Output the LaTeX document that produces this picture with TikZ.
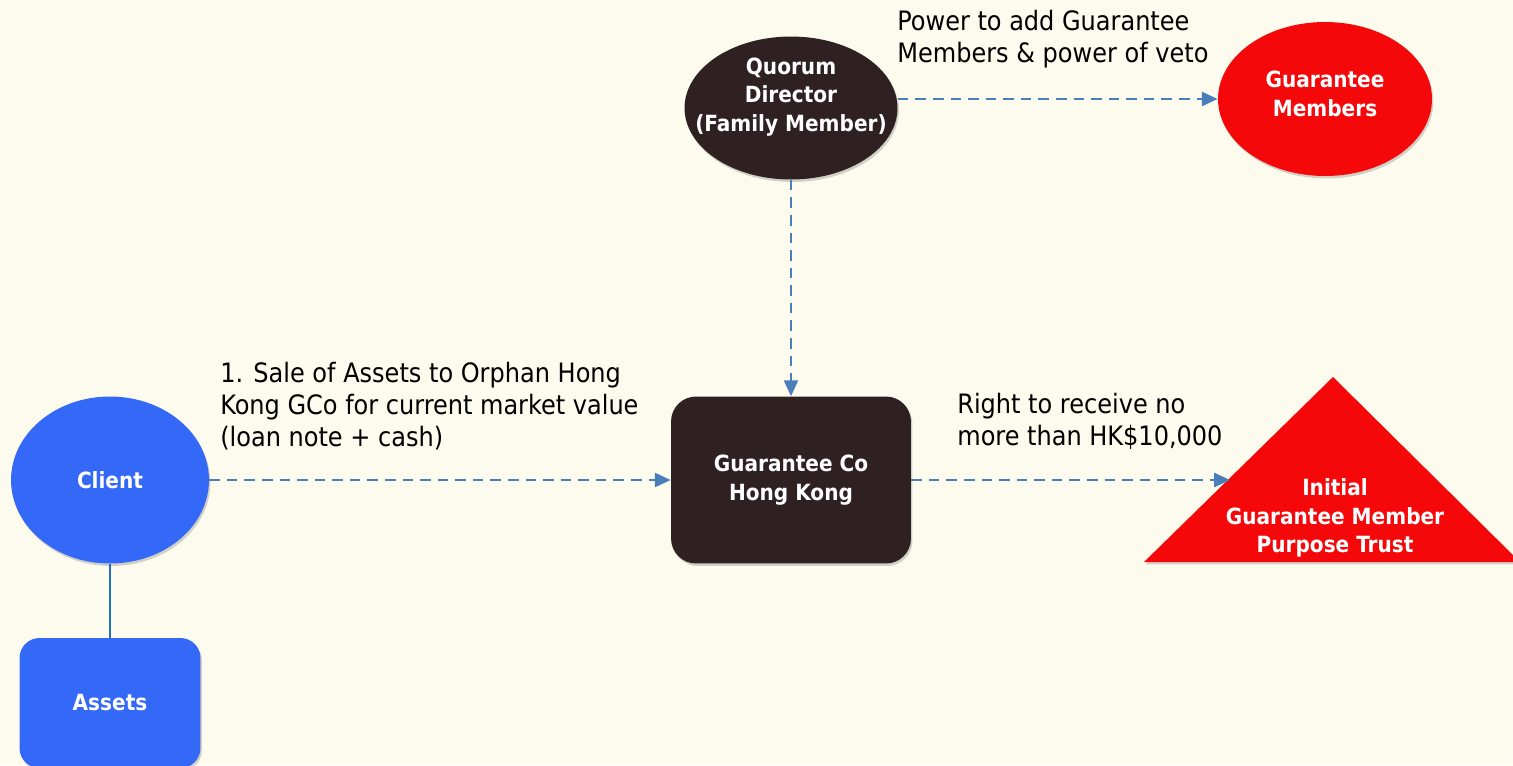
\documentclass[tikz,border=0pt]{standalone}
\usepackage{fontspec}
\setmainfont{DejaVu Sans Condensed}
\usetikzlibrary{arrows.meta, shapes.geometric, shadows, positioning}

\definecolor{paper}{RGB}{253,251,238}
\definecolor{clientblue}{RGB}{52,104,246}
\definecolor{darkbox}{RGB}{47,33,34}
\definecolor{hotred}{RGB}{245,8,10}
\definecolor{flowblue}{RGB}{74,126,187}
\definecolor{linkblue}{RGB}{31,112,192}

\begin{document}
\begin{tikzpicture}[
  x=0.02cm, y=-0.02cm,
  font=\fontsize{15.2}{18.1}\selectfont,
  softshadow/.style={drop shadow={shadow xshift=0.8pt, shadow yshift=-1.4pt, opacity=0.35}},
  inlabel/.style={text=white, align=center, font=\fontsize{12.7}{16.2}\selectfont\bfseries},
  bubble/.style={ellipse, inner sep=-30pt, inlabel, softshadow},
  boxnode/.style={rectangle, inner sep=0pt, inlabel, softshadow},
  note/.style={anchor=north west, inner sep=0pt, align=left},
  flow/.style={-{Triangle[length=9pt, width=8pt]}, dashed, dash pattern=on 6pt off 4pt, line width=1.3pt, flowblue},
  link/.style={line width=1.4pt, linkblue}
]
\fill[paper] (0,0) rectangle (1513,765);
\useasboundingbox (0,0) rectangle (1513,765);

% Top row
\node[bubble, fill=darkbox, minimum width=4.26cm, minimum height=2.86cm,
  label={[inlabel, yshift=6.2pt]center:{Quorum\\Director\\(Family Member)}}] (quorum) at (791,108) {};
\node[bubble, fill=hotred, minimum width=4.28cm, minimum height=3.08cm,
  label={[inlabel, yshift=2.8pt]center:{Guarantee\\Members}}] (members) at (1325,99) {};

% Middle row
\node[bubble, fill=clientblue, minimum width=3.96cm, minimum height=3.34cm] (client) at (110,480) {Client};
\node[boxnode, fill=darkbox, rounded corners=0.5cm, minimum width=4.8cm, minimum height=3.34cm] (gco) at (791,480) {Guarantee Co\\Hong Kong};

% Trust triangle
\fill[hotred, softshadow] (1144,562) -- (1333,377) -- (1520,562) -- cycle;
\node[inlabel] (trust) at (1335,518) {Initial\\Guarantee Member\\Purpose Trust};
\coordinate (trustside) at (1230,480);

% Assets
\node[boxnode, fill=clientblue, rounded corners=0.4cm, minimum width=3.62cm, minimum height=2.6cm] (assets) at (110,703) {Assets};

% Connectors
\draw[flow] (quorum.east |- members.west) -- (members.west);
\draw[flow] (quorum.south) -- (gco.north);
\draw[flow] (client.east) -- (gco.west);
\draw[flow] (gco.east) -- (trustside);
\draw[link] (client.south) -- (assets.north);

% Labels
\node[note] (vetolabel) at (897,10) {Power to add Guarantee\\Members \& power of veto};
\node[note] (salelabel) at (220,362) {1. Sale of Assets to Orphan Hong\\Kong GCo for current market value\\(loan note + cash)};
\node[note] (rightlabel) at (957,393) {Right to receive no\\more than HK\$10,000};
\end{tikzpicture}
\end{document}
